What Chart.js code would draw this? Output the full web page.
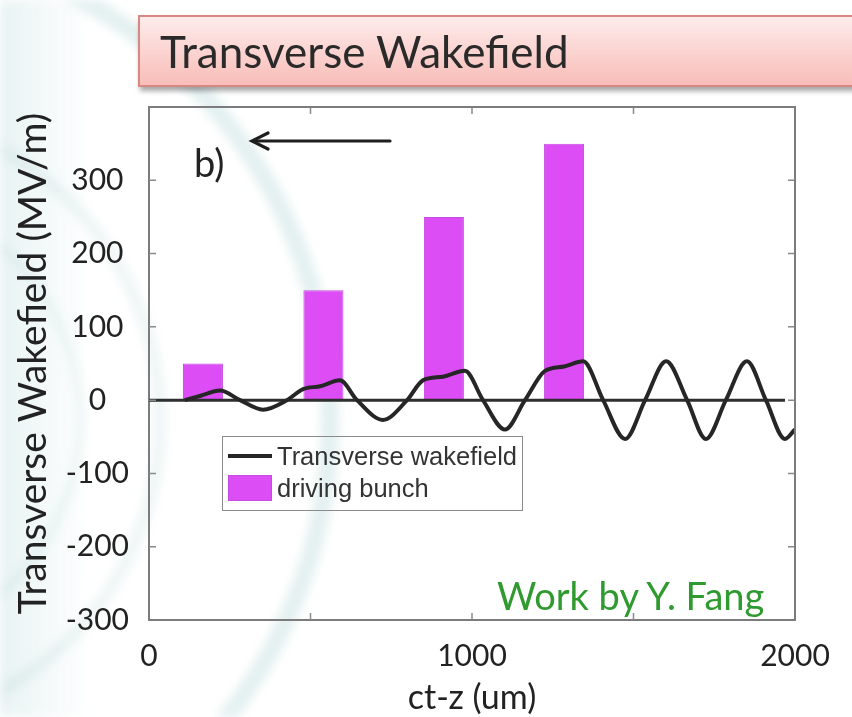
<!DOCTYPE html>
<html>
<head>
<meta charset="utf-8">
<script src="https://cdn.jsdelivr.net/npm/chart.js@4.4.1/dist/chart.umd.min.js"></script>
<style>
  html, body { margin: 0; padding: 0; background: #ffffff; }
  #stage { position: relative; width: 852px; height: 717px; overflow: hidden; }
  #bg { position: absolute; left: 0; top: 0; filter: blur(5px); }
  #chartBox { position: absolute; left: 0; top: 0; width: 852px; height: 717px; }
  #titleBar {
    position: absolute; left: 138px; top: 15px; width: 740px; height: 72px;
    box-sizing: border-box;
    background: linear-gradient(to bottom, #fdeceb 0%, #fbd2cf 55%, #f8bdb8 100%);
    border: 2px solid #d88882;
    box-shadow: 2px 4px 5px rgba(0,0,0,0.35);
    font-family: Lato, "Open Sans", sans-serif; font-size: 44px; color: #2a2a2a;
    line-height: 68px; padding-left: 20px;
  }
  .note { position: absolute; font-family: Lato, "Open Sans", sans-serif; white-space: nowrap; line-height: 1; }
  #legend {
    position: absolute; left: 222px; top: 436px; width: 301px; height: 75px;
    box-sizing: border-box; border: 1.5px solid #8a8a8a;
    font-family: "Liberation Sans", Arial, sans-serif; font-size: 25.5px; color: #333;
  }
  .lgRow { position: absolute; left: 5px; height: 30px; display: flex; align-items: center; }
  .lgKey { width: 44px; margin-right: 5px; box-sizing: border-box; }
</style>
</head>
<body>
<div id="stage">
  <canvas id="bg" width="852" height="717"></canvas>
  <div id="titleBar">Transverse Wakefield</div>
  <div id="chartBox"><canvas id="chart" width="852" height="717"></canvas></div>
  <div class="note" id="panelTag" style="left:194px; top:143px; font-size:38px; color:#222;">b)</div>
  <svg class="note" style="left:0; top:0;" width="852" height="717">
    <g stroke="#1e1e1e" stroke-width="3.2" fill="none" stroke-linecap="round">
      <line x1="390" y1="141" x2="253" y2="141"/>
      <polyline points="268,133 252,141 268,149"/>
    </g>
  </svg>
  <div id="legend"></div>
  <div class="note" style="left:497px; top:576px; font-size:38px; color:#2f9a2f;">Work by Y. Fang</div>
</div>
<script>
// Driving bunch slices: position (um) and height (MV/m)
const bunchPos = [167, 540, 913, 1285];
const bunchHeight = [50, 150, 250, 350];

// Transverse wakefield behind the bunches
const wakePos = [111, 160, 220, 282, 353, 427, 477, 530, 591, 644, 724, 799, 848, 910, 978,
                 1034, 1102, 1164, 1226, 1285, 1344, 1406, 1474, 1536, 1601, 1666, 1724,
                 1786, 1851, 1910, 1969, 2000];
const wakeField = [0, 6, 13, 0, -13, 0, 15, 19, 27, 0, -27, 0, 27, 32, 40,
                   0, -40, 0, 40, 46, 53, 0, -53, 0, 53, 0, -53,
                   0, 53, 0, -53, -40];

// Reference zero line
const zeroPos = [0, 1969];
const zeroVal = [0, 0];

// Axis ticks
const xTickValues = [0, 500, 1000, 1500, 2000];
const xTickLabels = ['0', '', '1000', '', '2000'];
const yTickValues = [-300, -200, -100, 0, 100, 200, 300, 400];
const yTickLabels = ['-300', '-200', '-100', '0', '100', '200', '300', ''];

const seriesNames = ['Transverse wakefield', 'driving bunch'];
const wakeColor = '#262626';
const bunchColor = '#dc4df5';

// faint seal watermark behind the slide
(function drawBackdrop() {
  const c = document.getElementById('bg').getContext('2d');
  const g = c.createLinearGradient(0, 0, 90, 0);
  g.addColorStop(0, 'rgba(205,228,228,0.45)');
  g.addColorStop(1, 'rgba(205,228,228,0)');
  c.fillStyle = g;
  c.fillRect(0, 0, 90, 717);
  c.strokeStyle = 'rgba(130,185,185,0.22)';
  c.lineWidth = 18;
  c.beginPath(); c.arc(-150, 420, 480, -Math.PI / 2.2, Math.PI / 2.2); c.stroke();
  c.strokeStyle = 'rgba(150,195,195,0.16)';
  c.lineWidth = 12;
  c.beginPath(); c.arc(-150, 420, 310, -Math.PI / 2.5, Math.PI / 2.5); c.stroke();
  c.lineWidth = 8;
  c.beginPath(); c.arc(-150, 420, 230, -Math.PI / 2.5, Math.PI / 2.5); c.stroke();
})();

const pts = (xs, ys) => xs.map((x, i) => ({ x, y: ys[i] }));

// inward tick marks and the top/right frame
const frame = {
  id: 'frame',
  afterDatasetsDraw(chart) {
    const { ctx, chartArea: a, scales: { x, y } } = chart;
    ctx.save();
    ctx.strokeStyle = '#8a8a8a';
    ctx.lineWidth = 1.5;
    ctx.beginPath();
    xTickValues.forEach(v => {
      const px = x.getPixelForValue(v);
      if (px <= a.left + 1 || px >= a.right - 1) return;
      ctx.moveTo(px, a.bottom); ctx.lineTo(px, a.bottom - 7);
      ctx.moveTo(px, a.top); ctx.lineTo(px, a.top + 7);
    });
    yTickValues.forEach(v => {
      const py = y.getPixelForValue(v);
      if (py <= a.top + 1 || py >= a.bottom - 1) return;
      ctx.moveTo(a.left, py); ctx.lineTo(a.left + 7, py);
      ctx.moveTo(a.right, py); ctx.lineTo(a.right - 7, py);
    });
    ctx.stroke();
    ctx.strokeStyle = '#7c7c7c';
    ctx.lineWidth = 2;
    ctx.beginPath();
    ctx.moveTo(a.left, a.top); ctx.lineTo(a.right, a.top); ctx.lineTo(a.right, a.bottom);
    ctx.stroke();
    ctx.restore();
  }
};

const chart = new Chart(document.getElementById('chart'), {
  type: 'bar',
  data: {
    datasets: [
      {
        type: 'line', label: seriesNames[0], data: pts(wakePos, wakeField),
        borderColor: wakeColor, borderWidth: 4, pointRadius: 0,
        cubicInterpolationMode: 'monotone', order: 1
      },
      {
        type: 'line', label: 'zero', data: pts(zeroPos, zeroVal),
        borderColor: '#2e2e2e', borderWidth: 3, pointRadius: 0, order: 2
      },
      {
        type: 'bar', label: seriesNames[1], data: pts(bunchPos, bunchHeight),
        backgroundColor: bunchColor, borderColor: '#c44be0', borderWidth: 1,
        barPercentage: 1, categoryPercentage: 0.333, order: 3
      }
    ]
  },
  options: {
    responsive: false,
    animation: false,
    layout: { padding: { top: 107, right: 57, bottom: 0, left: 0 } },
    plugins: { legend: { display: false }, tooltip: { enabled: false } },
    scales: {
      x: {
        type: 'linear', min: 0, max: 2000, offset: false,
        afterBuildTicks: s => { s.ticks = xTickValues.map(v => ({ value: v })); },
        afterFit: s => { s.height = 97; },
        grid: { display: false, drawTicks: false },
        border: { display: true, color: '#7c7c7c', width: 2 },
        ticks: {
          padding: 18, color: '#222', maxRotation: 0, autoSkip: false,
          font: { family: 'Lato', size: 30 },
          callback: (v) => xTickLabels[xTickValues.indexOf(v)]
        },
        title: {
          display: true, text: 'ct-z (um)', color: '#222',
          font: { family: 'Lato', size: 34, lineHeight: 1.1 }, padding: { top: 0, bottom: 0 }
        }
      },
      y: {
        type: 'linear', min: -300, max: 400,
        afterBuildTicks: s => { s.ticks = yTickValues.map(v => ({ value: v })); },
        afterFit: s => { s.width = 149; },
        grid: { display: false, drawTicks: false },
        border: { display: true, color: '#7c7c7c', width: 2 },
        ticks: {
          padding: 20, color: '#222', crossAlign: 'center', autoSkip: false,
          font: { family: 'Lato', size: 30 },
          callback: (v) => yTickLabels[yTickValues.indexOf(v)]
        },
        title: {
          display: true, text: 'Transverse Wakefield (MV/m)', color: '#222',
          font: { family: 'Lato', size: 39, lineHeight: 1.1 }, padding: { top: 12, bottom: 0 }
        }
      }
    }
  },
  plugins: [frame]
});

// legend built from the plotted series
(function buildLegend() {
  const box = document.getElementById('legend');
  const entries = [chart.data.datasets[0], chart.data.datasets[2]];
  entries.forEach((ds, i) => {
    const row = document.createElement('div');
    row.className = 'lgRow';
    row.style.top = (i === 0 ? 4 : 36) + 'px';
    const key = document.createElement('div');
    key.className = 'lgKey';
    if (ds.type === 'line') {
      key.style.height = '4px';
      key.style.background = ds.borderColor;
    } else {
      key.style.height = '26px';
      key.style.background = ds.backgroundColor;
      key.style.border = '1px solid ' + ds.borderColor;
    }
    const txt = document.createElement('span');
    txt.textContent = ds.label;
    row.appendChild(key);
    row.appendChild(txt);
    box.appendChild(row);
  });
})();
</script>
</body>
</html>
